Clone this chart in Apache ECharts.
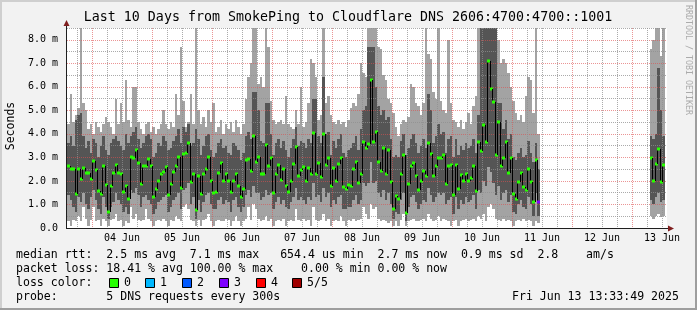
<!DOCTYPE html>
<html><head><meta charset="utf-8">
<script src="https://cdn.jsdelivr.net/npm/echarts@6/dist/echarts.min.js"></script>
<style>html,body{margin:0;padding:0;background:#f2f2f2}#c{width:697px;height:310px}</style>
</head><body><div id="c"></div>
<script>
// ---- data (hours counted from 03 Jun 00:00, one step = 1 hour) ----
const startHour = 14;
const med = [
2.64,2.5,2.5,1.43,2.5,2.1,2.54,2.35,2.33,2.1,
2.85,2.47,1.56,1.43,2.64,1.83,0.68,1.79,2.35,2.68,
2.35,2.3,1.55,1.8,1.22,3.02,2.98,3.3,2.75,1.89,
2.65,2.65,2.92,2.64,1.3,1.67,2.0,2.31,2.4,2.61,
1.39,1.86,2.38,2.64,3.02,1.69,3.15,3.2,3.63,1.97,
2.31,0.77,2.21,1.46,2.3,2.52,3.02,2.01,1.48,1.55,
2.34,2.77,1.99,2.31,2.0,1.52,2.0,2.3,1.79,1.33,
1.66,2.91,2.95,2.44,3.9,2.81,3.02,2.31,2.31,3.53,
2.65,2.96,1.49,2.31,2.67,2.03,2.51,1.79,1.55,2.0,
2.7,3.46,2.21,2.45,2.6,1.99,2.54,2.31,4.04,2.31,
2.77,2.18,3.99,2.67,2.96,1.8,2.55,2.01,2.7,2.96,
1.74,1.65,1.84,1.79,2.51,2.81,1.9,2.31,3.66,3.4,
3.55,6.27,3.65,4.07,2.81,2.43,3.39,2.31,3.3,1.97,
0.81,1.35,1.25,2.31,3.12,0.65,1.86,2.65,2.77,2.2,
1.63,1.99,2.43,2.2,3.63,3.13,2.2,2.64,2.99,2.98,
3.11,1.89,2.64,2.68,1.4,2.67,1.65,2.24,1.99,2.31,
1.99,2.11,2.62,1.57,3.66,3.26,4.38,3.66,7.08,5.89,
5.36,3.09,4.52,2.62,2.98,3.66,2.34,2.98,1.43,1.22,
1.97,2.35,1.74,1.62,2.52,1.97,1.11,2.88,1.12];
const q4 = [
3.6,3.9,3.5,4.6,4.8,4.9,3.9,3.4,3.7,3.2,
3.8,3.6,3.0,3.5,3.9,3.3,3.1,3.6,3.8,3.9,
3.7,3.5,3.3,4.0,3.6,3.9,4.1,4.3,3.8,3.4,
3.6,3.9,4.0,3.8,3.0,3.2,3.6,3.5,3.9,3.7,
3.3,3.4,3.7,3.9,4.2,3.6,4.3,4.1,4.4,3.5,
3.6,4.2,3.8,3.1,3.5,3.9,4.0,3.3,3.0,3.2,
3.6,3.8,3.4,3.5,3.2,3.1,3.6,3.5,3.3,2.9,
3.2,3.9,4.1,3.8,5.8,5.8,5.0,3.7,3.6,5.3,
5.3,4.0,3.1,3.6,3.8,3.4,3.7,3.3,3.0,3.4,
3.8,4.3,3.5,3.7,3.6,3.4,3.8,3.6,5.5,5.5,
3.9,3.6,6.4,4.0,4.1,3.1,3.7,3.4,3.8,4.0,
3.2,3.0,3.3,3.4,3.6,3.9,3.3,4.2,5.0,5.2,
7.7,7.7,7.7,6.0,5.2,4.8,5.0,4.6,4.7,3.8,
3.0,3.1,3.0,3.7,4.0,3.1,3.4,3.8,4.0,3.6,
3.2,3.5,3.8,3.4,5.7,5.0,3.6,3.9,4.4,4.0,
4.1,3.2,3.8,3.9,3.0,3.8,3.1,3.5,3.3,3.6,
3.4,3.5,3.8,3.2,4.8,8.6,8.6,8.6,8.6,8.6,
8.6,8.6,5.3,5.3,4.2,4.6,3.8,4.0,3.0,2.9,
3.2,3.4,3.0,3.1,3.7,3.2,2.8,3.6,2.5];
const q2 = [
1.4,1.2,0.9,0.7,1.3,1.1,1.5,1.0,0.8,1.3,
1.6,1.2,0.8,0.6,1.3,0.9,0.4,0.9,1.1,1.5,
1.2,1.0,0.7,0.9,0.6,1.6,1.5,1.7,1.4,0.9,
1.3,1.4,1.2,1.0,0.6,0.8,1.1,1.2,1.3,1.4,
0.7,0.9,1.2,1.3,1.5,0.8,1.6,1.7,1.9,1.0,
1.3,0.4,1.2,0.7,1.1,1.4,1.5,1.0,0.8,0.8,
1.2,1.3,1.0,1.2,1.1,0.7,1.2,1.3,0.9,0.7,
0.9,1.4,1.6,1.3,1.8,1.5,1.5,1.2,1.3,1.6,
1.4,1.5,0.8,1.1,1.3,1.0,1.2,0.9,0.8,1.1,
1.3,1.7,1.2,1.3,1.2,1.0,1.3,1.2,1.9,1.3,
1.4,1.1,1.7,1.3,1.5,0.9,1.2,1.0,1.3,1.4,
0.8,0.8,0.9,0.9,1.2,1.4,1.0,1.2,1.9,1.8,
1.9,2.8,1.9,2.0,1.5,1.3,1.6,1.2,1.5,1.0,
0.4,0.7,0.6,1.2,1.5,0.3,0.9,1.3,1.4,1.1,
0.8,1.0,1.2,1.1,1.7,1.4,1.1,1.3,1.5,1.4,
1.5,1.0,1.2,1.3,0.6,1.3,0.8,1.2,1.0,1.3,
1.1,1.2,1.4,0.8,1.6,1.5,2.0,1.8,2.6,2.4,
1.9,1.4,1.8,1.2,1.5,1.6,1.1,1.4,0.7,0.6,
1.0,1.2,0.9,0.8,1.3,1.0,0.5,1.5,0.5];
const lo = [
0.3,0.1,0.35,0.3,0.5,0.3,0.9,0.4,0.1,0.35,
0.9,0.3,0.35,0.1,0.4,0.3,0.1,0.35,0.4,0.6,
0.3,0.35,0.1,0.3,0.2,0.9,0.4,0.6,0.35,0.3,
0.35,0.8,0.4,0.3,0.1,0.3,0.35,0.3,0.4,0.3,
0.1,0.35,0.3,0.5,0.4,0.3,0.9,1.0,0.8,0.35,
0.3,0.1,0.35,0.1,0.35,0.4,0.6,0.3,0.1,0.3,
0.35,0.3,0.3,0.4,0.35,0.1,0.3,0.5,0.3,0.1,
0.3,0.4,0.9,0.35,1.0,0.8,0.4,0.3,0.35,0.5,
0.3,0.4,0.1,0.3,0.35,0.3,0.4,0.1,0.3,0.35,
0.3,0.8,0.35,0.3,0.4,0.3,0.35,0.1,0.9,0.35,
0.3,0.35,0.6,0.3,0.4,0.1,0.3,0.35,0.3,0.5,
0.3,0.1,0.35,0.3,0.4,0.3,0.35,0.4,0.9,0.6,
0.4,1.0,0.8,0.9,0.4,0.3,0.35,0.3,0.2,0.3,
0.1,0.3,0.1,0.35,0.6,0.1,0.3,0.35,0.4,0.3,
0.3,0.35,0.4,0.3,0.6,0.4,0.3,0.35,0.5,0.3,
0.4,0.35,0.3,0.1,0.3,0.35,0.1,0.3,0.35,0.4,
0.3,0.35,0.4,0.3,0.5,0.4,0.6,0.3,0.9,1.0,
0.8,0.4,0.35,0.3,0.4,0.3,0.35,0.3,0.1,0.3,
0.35,0.3,0.4,0.3,0.35,0.3,0.1,0.3,0.2];
const hi = [
4.4,5.7,4.5,4.8,5.1,8.6,5.3,5.0,4.2,4.4,
4.0,4.5,4.3,4.1,4.4,4.7,4.5,4.3,4.0,5.5,
4.4,5.3,4.5,6.3,4.6,4.3,6.0,6.0,4.5,4.2,
4.0,4.4,4.5,4.1,4.3,4.0,4.2,4.4,5.0,4.4,
4.2,4.5,4.3,5.7,4.8,7.7,5.4,4.3,4.5,5.7,
4.4,8.6,5.0,4.4,4.7,4.3,5.0,4.5,5.3,4.1,
4.3,4.6,4.0,4.4,4.2,4.5,4.1,4.6,4.3,4.0,
4.4,5.5,6.4,7.0,8.6,8.6,6.1,6.4,6.0,8.6,
7.7,5.4,4.6,4.4,4.5,4.6,4.4,5.6,4.4,4.3,
4.2,5.0,4.4,6.0,4.3,4.5,5.3,7.2,7.0,6.4,
4.6,4.8,8.6,5.3,5.6,4.8,4.5,4.4,4.6,4.4,
4.5,4.3,4.6,5.1,5.3,5.2,5.7,7.0,6.6,6.4,
8.6,8.6,8.6,8.6,7.7,7.6,6.5,6.3,5.5,5.3,
4.9,4.3,3.9,4.4,4.6,4.5,4.7,6.1,6.0,5.3,
5.2,4.8,5.3,8.5,7.4,7.2,5.8,5.5,8.6,5.4,
5.0,4.9,8.0,5.3,4.6,4.5,4.3,4.6,4.2,4.5,
4.9,4.4,5.2,5.6,8.6,8.6,8.6,8.6,8.6,8.6,
8.6,8.6,8.0,7.0,7.2,7.0,6.6,6.0,5.4,4.9,
4.6,4.8,4.5,5.6,6.4,6.3,4.9,8.6,4.0];
const lostPings = {188: 3};           // step index -> lost pings (others 0)
// last block (13 Jun morning)
const startHour2 = 247;
const med2 = [2.99, 2.0, 2.7, 3.35, 1.96, 2.68];
const q42  = [3.9, 3.8, 4.0, 6.8, 5.0, 3.9];
const q22  = [1.2, 1.0, 1.3, 1.5, 1.1, 1.2];
const lo2  = [0.5, 0.4, 0.5, 0.6, 0.45, 0.5];
const hi2  = [7.6, 8.0, 8.6, 8.6, 7.3, 8.6];

const dayLabels  = ['04 Jun','05 Jun','06 Jun','07 Jun','08 Jun','09 Jun','10 Jun','11 Jun','12 Jun','13 Jun'];
const labelHours = [36, 60, 84, 108, 132, 156, 180, 204, 228, 252];
const gridHours  = [18,24,30,36,42,48,54,60,66,72,78,84,90,96,102,108,114,120,126,132,138,144,150,156,162,168,174,180,186,192,198,204,210,216,222,228,234,240,246,252];
const lossColors = ['#26ff00','#00b8ff','#0059ff','#7e00ff','#ff0000','#a00000'];
const lossNames  = ['0','1','2','3','4','5/5'];

// ---- build rows for the library ----
const rows = [];
function addBlock(h0, L, Q2, M, Q4, H, loss) {
  for (let i = 0; i < M.length; i++) {
    rows.push([h0 + i, L[i], Q2[i], M[i], Q4[i], H[i], i > 0 ? M[i-1] : -1, (loss && loss[i]) || 0]);
  }
}
addBlock(startHour, lo, q2, med, q4, hi, lostPings);
addBlock(startHour2, lo2, q22, med2, q42, hi2, null);

const LIGHT = '#a3a3a3', DARK = '#555555';
const GRID = 'rgba(143,143,143,0.75)', MGRID = 'rgba(222,79,79,0.6)';
const MONO = '"DejaVu Sans Mono"';

function smokeItem(params, api) {
  const h = api.value(0);
  const top = params.coordSys.y;
  const xa = Math.round(api.coord([h, 0])[0]);
  const xb = Math.round(api.coord([h + 1, 0])[0]);
  const yv = v => Math.round(Math.max(top, api.coord([h, v])[1]));
  const yLo = yv(api.value(1)), yQ2 = yv(api.value(2)), yQ4 = yv(api.value(4)), yHi = yv(api.value(5));
  return {type: 'group', children: [
    {type: 'rect', shape: {x: xa, y: yHi, width: xb - xa, height: yLo - yHi}, style: {fill: LIGHT}},
    {type: 'rect', shape: {x: xa, y: yQ4, width: xb - xa, height: yQ2 - yQ4}, style: {fill: DARK}}
  ]};
}
function medianItem(params, api) {
  const h = api.value(0), m = api.value(3), pm = api.value(6), loss = api.value(7);
  const xa = Math.round(api.coord([h, 0])[0]);
  const xb = Math.round(api.coord([h + 1, 0])[0]);
  const ym = Math.round(api.coord([h, m])[1]);
  const ch = [];
  if (pm >= 0) {
    const yp = Math.round(api.coord([h, pm])[1]);
    ch.push({type: 'line', shape: {x1: xa + 0.5, y1: yp, x2: xa + 0.5, y2: ym}, style: {stroke: '#000', lineWidth: 1}});
  }
  ch.push({type: 'rect', shape: {x: xa, y: ym - 1.5, width: Math.max(3, xb - xa), height: 3}, style: {fill: lossColors[loss]}});
  return {type: 'group', children: ch};
}

const T = (text, x, y, size, extra) => Object.assign({
  type: 'text', x: x, y: y, z: 10,
  style: Object.assign({text: text, font: size + 'px ' + MONO, fill: '#000',
    textAlign: 'left', textVerticalAlign: 'middle', align: 'left', verticalAlign: 'middle'}, extra || {})
}, {});

const graphics = [
  {type: 'rect', shape: {x: 0, y: 0, width: 697, height: 2}, style: {fill: '#cfcfcf'}},
  {type: 'rect', shape: {x: 0, y: 0, width: 2, height: 310}, style: {fill: '#cfcfcf'}},
  {type: 'rect', shape: {x: 695, y: 0, width: 2, height: 310}, style: {fill: '#9e9e9e'}},
  {type: 'rect', shape: {x: 0, y: 308, width: 697, height: 2}, style: {fill: '#9e9e9e'}},
  T('Last 10 Days from SmokePing to Cloudflare DNS 2606:4700:4700::1001', 348, 18, 13.3, {textAlign: 'center', align: 'center'}),
  Object.assign(T('Seconds', 11, 126, 11.5, {textAlign: 'center', align: 'center'}), {rotation: Math.PI / 2}),
  Object.assign(T('RRDTOOL / TOBI OETIKER', 688, 60, 8.3, {textAlign: 'center', align: 'center', fill: '#ababab'}), {rotation: -Math.PI / 2}),
  T('median rtt:  2.5 ms avg  7.1 ms max   654.4 us min  2.7 ms now  0.9 ms sd  2.8    am/s', 16, 254.5, 11.56),
  T('packet loss: 18.41 % avg 100.00 % max    0.00 % min 0.00 % now', 16, 268.5, 11.56),
  T('loss color:', 16, 282.5, 11.56),
  T('probe:       5 DNS requests every 300s', 16, 296.5, 11.56),
  T('Fri Jun 13 13:33:49 2025', 512, 296.5, 11.56),
  // axes with arrows
  {type: 'line', z: 9, shape: {x1: 66.5, y1: 228, x2: 66.5, y2: 24}, style: {stroke: '#1f1f1f', lineWidth: 1}},
  {type: 'line', z: 9, shape: {x1: 66, y1: 228.5, x2: 670, y2: 228.5}, style: {stroke: '#1f1f1f', lineWidth: 1}},
  {type: 'polygon', z: 9, shape: {points: [[63.5, 26], [69.5, 26], [66.5, 20]]}, style: {fill: '#801f1f'}},
  {type: 'polygon', z: 9, shape: {points: [[668, 225.5], [668, 231.5], [674, 228.5]]}, style: {fill: '#801f1f'}}
];
lossNames.forEach((n, k) => {
  const bx = 108.5 + k * 36.75;
  graphics.push({type: 'rect', z: 10, shape: {x: Math.round(bx) + 0.5, y: 278.5, width: 9, height: 9}, style: {fill: lossColors[k], stroke: '#000', lineWidth: 1}});
  graphics.push(T(n, Math.round(bx) + 15, 282.5, 11.56));
});

const chart = echarts.init(document.getElementById('c'), null, {renderer: 'canvas'});
chart.setOption({
  backgroundColor: '#f2f2f2',
  animation: false,
  grid: {left: 67, top: 28, width: 600, height: 200, show: true, backgroundColor: '#ffffff', borderWidth: 0, containLabel: false, outerBoundsMode: 'none'},
  xAxis: {
    type: 'value', min: 14, max: 254, z: 2,
    axisLine: {show: false},
    axisTick: {show: false, customValues: gridHours},
    axisLabel: {customValues: labelHours, margin: 5, color: '#000', fontFamily: MONO, fontSize: 10,
      formatter: v => dayLabels[labelHours.indexOf(v)] || ''},
    splitLine: {show: true, lineStyle: {color: [GRID, MGRID, GRID, GRID], type: [1, 1], width: 1}}
  },
  yAxis: {
    type: 'value', min: 0, max: 8.5, interval: 0.5, z: 2,
    axisLine: {show: false}, axisTick: {show: false},
    axisLabel: {margin: 9, color: '#000', fontFamily: MONO, fontSize: 10,
      formatter: v => (Math.abs(v - Math.round(v)) > 1e-6 || v > 8.01) ? '' : (v === 0 ? '0.0' : v.toFixed(1) + ' m')},
    splitLine: {show: true, lineStyle: {color: [MGRID, GRID], type: [1, 1], width: 1}}
  },
  graphic: graphics,
  series: [
    {type: 'custom', name: 'smoke', z: 1, clip: true, renderItem: smokeItem, data: rows, encode: {x: 0, y: [1, 5]}},
    {type: 'custom', name: 'median', z: 3, clip: true, renderItem: medianItem, data: rows, encode: {x: 0, y: 3}}
  ]
});
</script></body></html>
